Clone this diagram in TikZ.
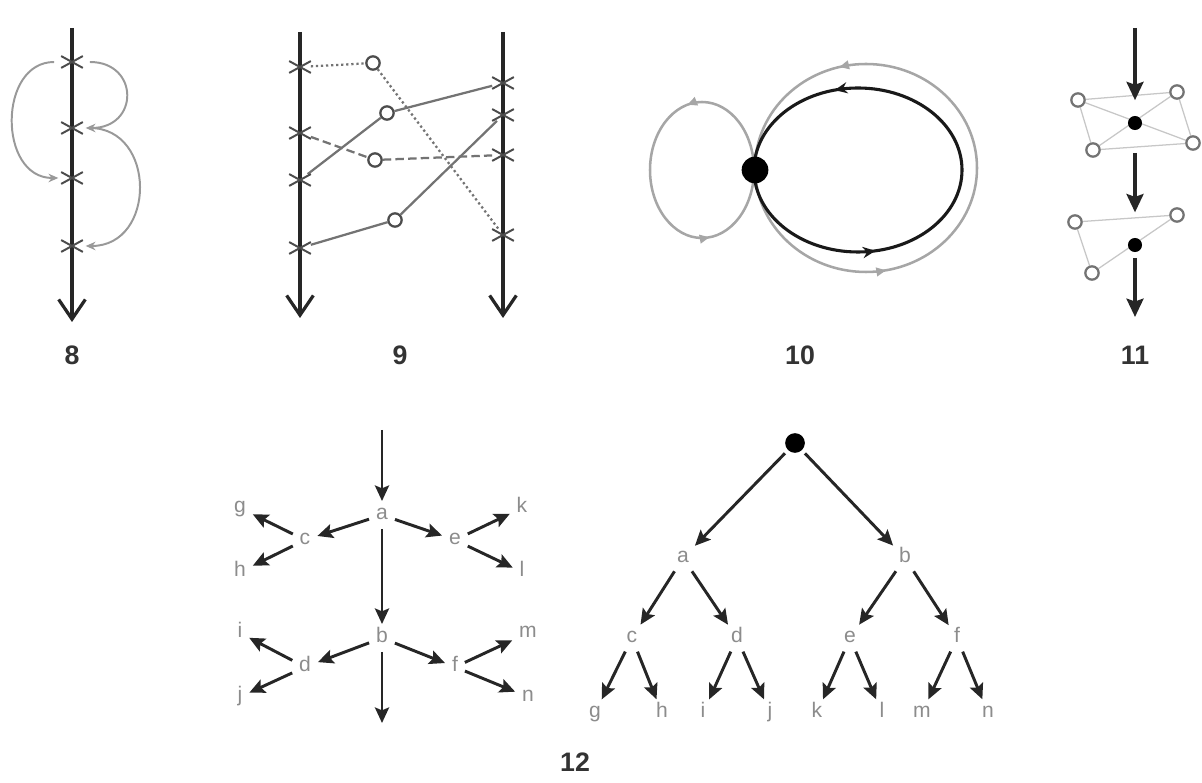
\documentclass[tikz,border=0pt]{standalone}
\usepackage{fontspec}
\setmainfont{Liberation Sans}
\usetikzlibrary{arrows.meta, shapes.misc, backgrounds, decorations.markings}
\tikzset{
  timeline/.style = {
    draw=black!85, line width=2.3pt,
    -{Straight Barb[length=14pt, width=19pt]}
  },
  xmark/.style = {
    cross out, draw=black!70, line width=1.4pt,
    minimum width=14pt, minimum height=7pt, inner sep=0pt
  },
  hollow/.style = {
    circle, draw=black!70, line width=1.6pt, fill=white,
    minimum size=9.5pt, inner sep=0pt
  },
  blob/.style = { circle, fill=black, inner sep=0pt, minimum size=#1 },
  hop/.style = {
    draw=black!40, line width=1.4pt, -{Stealth[length=7pt, width=6pt]},
    shorten <=5pt, shorten >=2pt
  },
  link/.style  = { draw=black!55, line width=1.6pt },
  mesh/.style  = { draw=black!22, line width=0.9pt },
  gloop/.style = { draw=black!35, line width=1.8pt },
  bloop/.style = { draw=black!90, line width=2.2pt },
  drop/.style  = {
    draw=black!85, line width=2.6pt, -{Stealth[length=13pt, width=12pt, inset=2pt]}
  },
  letter/.style = {
    text=black!45, font=\fontsize{15}{17}\selectfont,
    inner sep=2pt, text height=1.5ex, text depth=.3ex
  },
  tarrow/.style = {
    draw=black!85, line width=2.1pt, -{Stealth[length=11pt, width=10pt, inset=2pt]},
    shorten <=3pt, shorten >=3pt
  },
  caption/.style = { text=black!80, font=\fontsize{19}{21}\selectfont\bfseries },
  loopmarks/.style n args = {3}{
    postaction={decorate},
    decoration={markings,
      mark=at position #1 with {\arrow{#3}},
      mark=at position #2 with {\arrow{#3}}}
  }
}

\begin{document}
\begin{tikzpicture}[x=0.025cm, y=0.025cm]
  \useasboundingbox (0,0) rectangle (1202,782);

    % ------------------------------------------------------------- Panel 8
    \coordinate (top8) at (72,754);
    \coordinate (end8) at (72,460);
    \draw [timeline] (top8) -- (end8);

    \node [xmark] (x8a) at (72,720) {};
    \node [xmark] (x8b) at (72,654) {};
    \node [xmark] (x8c) at (72,604) {};
    \node [xmark] (x8d) at (72,536) {};

    \draw [hop] (x8a.west) to [out=180, in=180, looseness=1.4] (x8c.west);
    \draw [hop] (x8a.east) to [out=0, in=0, looseness=2.2] (x8b.east);
    \draw [hop] (x8b.east) to [out=0, in=0, looseness=1.6] (x8d.east);

    \node [caption] (cap8) at (72,427) {8};

    % ------------------------------------------------------------- Panel 9
    \coordinate (top9l) at (300,750);
    \coordinate (end9l) at (300,464);
    \coordinate (top9r) at (503,750);
    \coordinate (end9r) at (503,464);
    \draw [timeline] (top9l) -- (end9l);
    \draw [timeline] (top9r) -- (end9r);

    \node [xmark] (l9a) at (300,715) {};
    \node [xmark] (l9b) at (300,649) {};
    \node [xmark] (l9c) at (300,602) {};
    \node [xmark] (l9d) at (300,534) {};

    \node [xmark] (r9a) at (503,699) {};
    \node [xmark] (r9b) at (503,667) {};
    \node [xmark] (r9c) at (503,627) {};
    \node [xmark] (r9d) at (503,547) {};

    \node [hollow] (o9a) at (373,719) {};
    \node [hollow] (o9b) at (387,669) {};
    \node [hollow] (o9c) at (375,622) {};
    \node [hollow] (o9d) at (395,562) {};

    \begin{scope}[on background layer]
      \draw [link, dotted] (l9a) -- (o9a) -- (r9d);
      \draw [link] (l9c) -- (o9b) -- (r9a);
      \draw [link, dash pattern=on 6pt off 3pt] (l9b) -- (o9c) -- (r9c);
      \draw [link] (l9d) -- (o9d) -- (r9b);
    \end{scope}

    \node [caption] (cap9) at (400,427) {9};

    % ------------------------------------------------------------ Panel 10
    \node [blob=19pt] (hub) at (755,612) {};
    \coordinate (lctr) at (702,612);
    \coordinate (bctr) at (858,612);
    \coordinate (octr) at (866,614);

    \begin{scope}[on background layer]
      \draw [gloop, loopmarks={0.29}{0.77}{Triangle[length=7pt, width=6pt]}]
        (lctr) ellipse [x radius=52, y radius=68];
      \draw [gloop, loopmarks={0.29}{0.78}{Triangle[length=7pt, width=6pt]}]
        (octr) ellipse [x radius=111, y radius=104];
      \draw [bloop, loopmarks={0.29}{0.78}{Stealth[length=9pt, width=8pt]}]
        (bctr) ellipse [x radius=104, y radius=82];
    \end{scope}

    \node [caption] (cap10) at (800,427) {10};

    % ------------------------------------------------------------ Panel 11
    \coordinate (top11) at (1135,754);
    \node [blob=10pt] (hub11a) at (1135,659) {};
    \node [blob=10pt] (hub11b) at (1135,537) {};
    \coordinate (end11) at (1135,465);

    \node [hollow, draw=black!55] (o11a) at (1078,682) {};
    \node [hollow, draw=black!55] (o11b) at (1177,690) {};
    \node [hollow, draw=black!55] (o11c) at (1093,632) {};
    \node [hollow, draw=black!55] (o11d) at (1193,639) {};
    \node [hollow, draw=black!55] (o11e) at (1075,560) {};
    \node [hollow, draw=black!55] (o11f) at (1177,567) {};
    \node [hollow, draw=black!55] (o11g) at (1092,509) {};

    \begin{scope}[on background layer]
      \draw [mesh] (o11a) -- (o11b);
      \draw [mesh] (o11a) -- (o11d);
      \draw [mesh] (o11c) -- (o11b);
      \draw [mesh] (o11c) -- (o11d);
      \draw [mesh] (o11a) -- (o11c);
      \draw [mesh] (o11b) -- (o11d);
      \draw [mesh] (o11e) -- (o11f);
      \draw [mesh] (o11e) -- (o11g);
      \draw [mesh] (o11g) -- (o11f);
    \end{scope}

    \draw [drop, shorten >=11pt] (top11) -- (hub11a);
    \draw [drop, shorten <=16pt, shorten >=18pt] (hub11a) -- (hub11b);
    \draw [drop, shorten <=4pt] (hub11b) -- (end11);

    \node [caption] (cap11) at (1135,427) {11};

    % ------------------------------------------------- Panel 12 (star)
    \coordinate (top12) at (382,352);
    \coordinate (end12) at (382,59);

    \node [letter] (st_a) at (382,267) {a};
    \node [letter] (st_c) at (305,242) {c};
    \node [letter] (st_e) at (455,242) {e};
    \node [letter] (st_g) at (240,274) {g};
    \node [letter] (st_h) at (240,210) {h};
    \node [letter] (st_k) at (522,274) {k};
    \node [letter] (st_l) at (522,210) {l};

    \node [letter] (st_b) at (382,144) {b};
    \node [letter] (st_d) at (305,115) {d};
    \node [letter] (st_f) at (455,115) {f};
    \node [letter] (st_i) at (240,149) {i};
    \node [letter] (st_j) at (240,85)  {j};
    \node [letter] (st_m) at (528,149) {m};
    \node [letter] (st_n) at (528,85)  {n};

    \draw [tarrow, shorten <=0pt] (top12) -- (st_a);
    \draw [tarrow] (st_a) -- (st_b);
    \draw [tarrow, shorten >=0pt] (st_b) -- (end12);
    \draw [tarrow] (st_a) -- (st_c);
    \draw [tarrow] (st_a) -- (st_e);
    \draw [tarrow] (st_c) -- (st_g);
    \draw [tarrow] (st_c) -- (st_h);
    \draw [tarrow] (st_e) -- (st_k);
    \draw [tarrow] (st_e) -- (st_l);
    \draw [tarrow] (st_b) -- (st_d);
    \draw [tarrow] (st_b) -- (st_f);
    \draw [tarrow] (st_d) -- (st_i);
    \draw [tarrow] (st_d) -- (st_j);
    \draw [tarrow] (st_f) -- (st_m);
    \draw [tarrow] (st_f) -- (st_n);

    % ------------------------------------------------- Panel 12 (tree)
    \node [blob=14pt] (root) at (795,339) {};

    \node [letter] (tr_a) at (683,224) {a};
    \node [letter] (tr_b) at (905,224) {b};
    \node [letter] (tr_c) at (632,144) {c};
    \node [letter] (tr_d) at (737,144) {d};
    \node [letter] (tr_e) at (850,144) {e};
    \node [letter] (tr_f) at (957,144) {f};
    \node [letter] (tr_g) at (595,69)  {g};
    \node [letter] (tr_h) at (662,69)  {h};
    \node [letter] (tr_i) at (703,69)  {i};
    \node [letter] (tr_j) at (770,69)  {j};
    \node [letter] (tr_k) at (817,69)  {k};
    \node [letter] (tr_l) at (882,69)  {l};
    \node [letter] (tr_m) at (922,69)  {m};
    \node [letter] (tr_n) at (988,69)  {n};

    \draw [tarrow] (root) -- (tr_a);
    \draw [tarrow] (root) -- (tr_b);
    \draw [tarrow] (tr_a) -- (tr_c);
    \draw [tarrow] (tr_a) -- (tr_d);
    \draw [tarrow] (tr_b) -- (tr_e);
    \draw [tarrow] (tr_b) -- (tr_f);
    \draw [tarrow] (tr_c) -- (tr_g);
    \draw [tarrow] (tr_c) -- (tr_h);
    \draw [tarrow] (tr_d) -- (tr_i);
    \draw [tarrow] (tr_d) -- (tr_j);
    \draw [tarrow] (tr_e) -- (tr_k);
    \draw [tarrow] (tr_e) -- (tr_l);
    \draw [tarrow] (tr_f) -- (tr_m);
    \draw [tarrow] (tr_f) -- (tr_n);

    \node [caption] (cap12) at (575,20) {12};

\end{tikzpicture}
\end{document}
